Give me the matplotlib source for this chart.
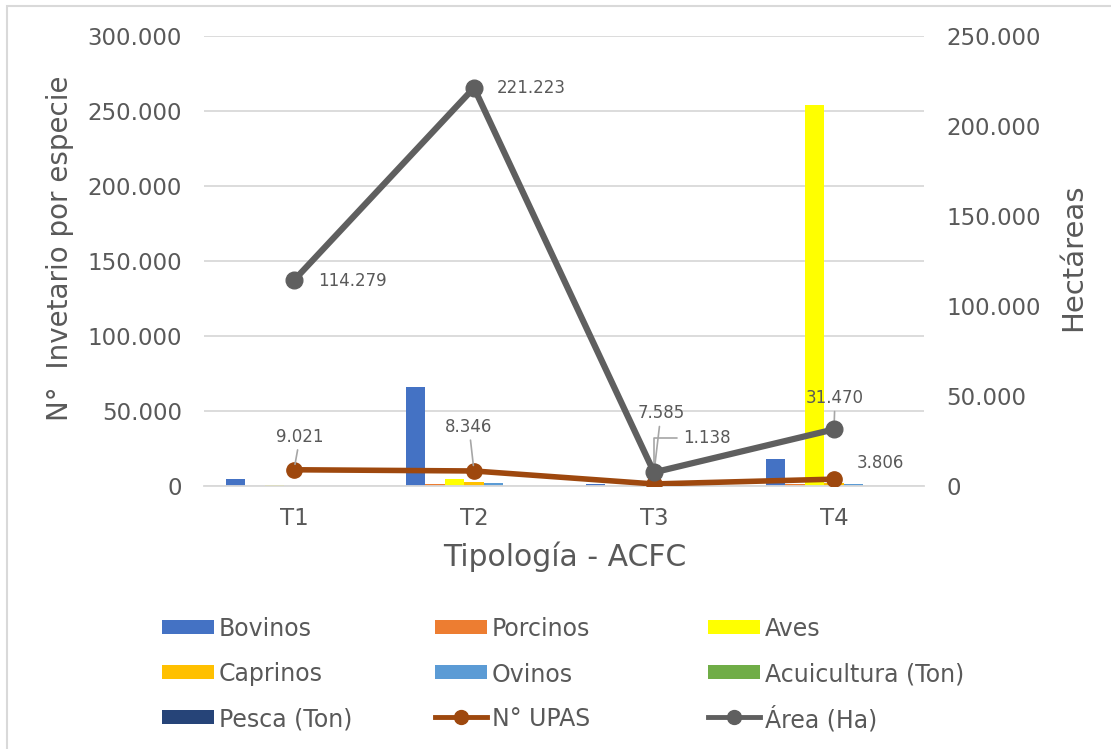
import matplotlib
matplotlib.use("Agg")
import matplotlib.pyplot as plt
from matplotlib.patches import Rectangle
from matplotlib.lines import Line2D
from matplotlib.ticker import FuncFormatter

categories = ["T1", "T2", "T3", "T4"]
bovinos = [5000, 66000, 1500, 18000]
porcinos = [300, 1200, 200, 1200]
aves = [600, 4500, 100, 254000]
caprinos = [200, 3000, 100, 2000]
ovinos = [300, 2200, 300, 1200]
acuicultura = [0, 0, 0, 0]
pesca = [0, 0, 0, 0]
upas = [9021, 8346, 1138, 3806]
area = [114279, 221223, 7585, 31470]

bar_series = [
    ("Bovinos", bovinos, "#4472C4"),
    ("Porcinos", porcinos, "#ED7D31"),
    ("Aves", aves, "#FFFF00"),
    ("Caprinos", caprinos, "#FFC000"),
    ("Ovinos", ovinos, "#5B9BD5"),
    ("Acuicultura (Ton)", acuicultura, "#70AD47"),
    ("Pesca (Ton)", pesca, "#264478"),
]
UPAS_COLOR = "#9E480E"
AREA_COLOR = "#5F5F5F"
TXT = "#595959"

plt.rcParams['font.family'] = ['DejaVu Sans']

W, H = 1111, 749
fig = plt.figure(figsize=(W / 100, H / 100), dpi=100)
ax = fig.add_axes([204/W, 1-486/H, 720/W, 450/H])
ax2 = ax.twinx()

def fmt(v, pos=None):
    return f"{int(round(v)):,}".replace(",", ".")

x = list(range(len(categories)))
w = 0.108
for j, (name, vals, col) in enumerate(bar_series):
    ax.bar([xi + (j - 3) * w for xi in x], vals, width=w, color=col, zorder=2, label=name)

ax.set_xlim(-0.5, 3.5)
ax.set_ylim(0, 300000)
ax.set_yticks(range(0, 300001, 50000))
ax.yaxis.set_major_formatter(FuncFormatter(fmt))
ax.grid(axis='y', color='#D9D9D9', lw=1.3, zorder=0)
ax.set_axisbelow(True)
ax.set_xticks(x)
ax.set_xticklabels(categories)
for s in ax.spines.values():
    s.set_visible(False)
for s in ax2.spines.values():
    s.set_visible(False)
ax.spines['bottom'].set_visible(True)
ax.spines['bottom'].set_color('#D9D9D9')
ax.spines['bottom'].set_linewidth(1.3)
ax.tick_params(axis='both', length=0, labelsize=16.5, labelcolor=TXT)
ax.tick_params(axis='y', pad=16)
ax.tick_params(axis='x', pad=15)

ax2.set_ylim(0, 250000)
ax2.set_yticks(range(0, 250001, 50000))
ax2.yaxis.set_major_formatter(FuncFormatter(fmt))
ax2.tick_params(axis='y', length=0, labelsize=16.5, labelcolor=TXT, pad=16)

# Axis titles at measured positions
fig.text(60/W, 1-248/H, "N°  Invetario por especie", rotation=90, ha='center', va='center',
         fontsize=20, color=TXT)
fig.text(1073/W, 1-257/H, "Hectáreas", rotation=90, ha='center', va='center',
         fontsize=21, color=TXT)
fig.text(565/W, 1-557/H, "Tipología - ACFC", ha='center', va='center',
         fontsize=21.5, color=TXT)

ax2.plot(x, upas, color=UPAS_COLOR, lw=4, marker='o', ms=11, zorder=3, label="N° UPAS")
ax2.plot(x, area, color=AREA_COLOR, lw=4.5, marker='o', ms=12, zorder=4, label="Área (Ha)")

lead = dict(arrowstyle='-', color='#A6A6A6', lw=1.2, shrinkA=1, shrinkB=4)
lab_kw = dict(fontsize=12, color=TXT, textcoords='offset pixels')

# Área labels
ax2.annotate(fmt(area[0]), (0, area[0]), xytext=(24, -1), ha='left', va='center', **lab_kw)
ax2.annotate(fmt(area[1]), (1, area[1]), xytext=(23, 0), ha='left', va='center', **lab_kw)
ax2.annotate(fmt(area[2]), (2, area[2]), xytext=(7, 59), ha='center', va='center', arrowprops=lead, **lab_kw)
ax2.annotate(fmt(area[3]), (3, area[3]), xytext=(1, 31), ha='center', va='center', arrowprops=lead, **lab_kw)
# UPAS labels
ax2.annotate(fmt(upas[0]), (0, upas[0]), xytext=(6, 33), ha='center', va='center', arrowprops=lead, **lab_kw)
ax2.annotate(fmt(upas[1]), (1, upas[1]), xytext=(-5, 44), ha='center', va='center', arrowprops=lead, **lab_kw)
ax2.annotate(fmt(upas[2]), (2, upas[2]), xytext=(29, 46), ha='left', va='center',
             arrowprops=dict(arrowstyle='-', color='#A6A6A6', lw=1.2, shrinkA=2, shrinkB=4,
                             connectionstyle='angle,angleA=0,angleB=90,rad=0'), **lab_kw)
ax2.annotate(fmt(upas[3]), (3, upas[3]), xytext=(46, 16), ha='center', va='center', **lab_kw)

# Legend drawn in figure pixel coordinates, row-wise as in reference
entries = [(n, 'bar', c) for n, _, c in bar_series]
entries += [("N° UPAS", 'line', UPAS_COLOR), ("Área (Ha)", 'line', AREA_COLOR)]
col_x = [162, 435, 708]
row_y = [627, 672, 717]
for k, (name, kind, col) in enumerate(entries):
    cx = col_x[k % 3]
    cy = row_y[k // 3]
    if kind == 'bar':
        fig.add_artist(Rectangle((cx/W, 1-(cy+7)/H), 52/W, 14/H, transform=fig.transFigure,
                                 facecolor=col, edgecolor='none'))
    else:
        fig.add_artist(Line2D([cx/W, (cx+52)/W], [1-cy/H, 1-cy/H], transform=fig.transFigure,
                              color=col, lw=3.5))
        fig.add_artist(Line2D([(cx+26)/W], [1-cy/H], transform=fig.transFigure,
                              color=col, marker='o', ms=10, lw=0))
    fig.text((cx+57)/W, 1-cy/H, name, ha='left', va='center_baseline', fontsize=17, color=TXT)

fig.add_artist(Rectangle((7/W, -0.01), 1.1, 1-6/H+0.01, transform=fig.transFigure,
                         fill=False, edgecolor='#D9D9D9', lw=1.5))

fig.savefig("out.png", dpi=100)
